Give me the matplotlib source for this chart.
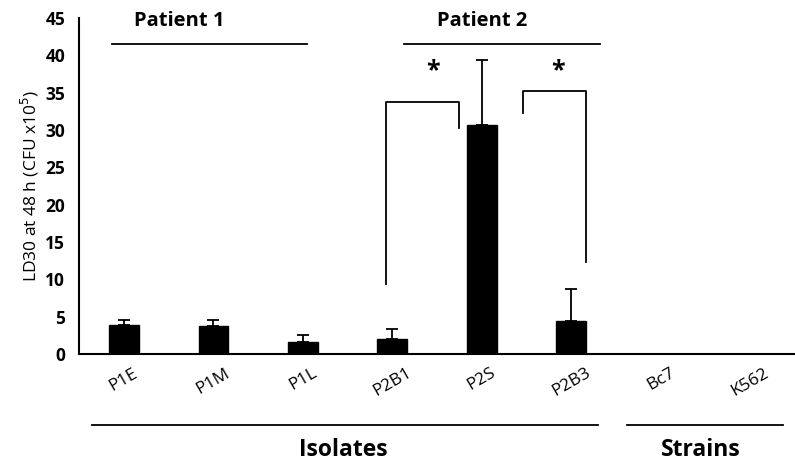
import numpy as np
import matplotlib
matplotlib.use('Agg')
import matplotlib.pyplot as plt

plt.rcParams['font.family'] = ['Open Sans', 'DejaVu Sans']

# data
labels = ['P1E', 'P1M', 'P1L', 'P2B1', 'P2S', 'P2B3', 'Bc7', 'K562']
values = [3.9, 3.8, 1.6, 2.05, 30.7, 4.4, 0, 0]
errors = [0.6, 0.8, 0.9, 1.3, 8.7, 4.3, 0, 0]
yticks = [0, 5, 10, 15, 20, 25, 30, 35, 40, 45]

fig = plt.figure(figsize=(7.95, 4.62), dpi=100)
ax = fig.add_axes([0.0994, 0.234, 0.9006, 0.727])

x = np.arange(len(labels))
lower = [0] * len(labels)
ax.bar(x, values, width=0.33, color='black', edgecolor='black')
ax.errorbar(x[:6], values[:6], yerr=[lower[:6], errors[:6]], fmt='none',
            ecolor='black', elinewidth=1.3, capsize=4, capthick=1.3)

ax.set_xlim(-0.5, 7.5)
ax.set_ylim(0, 45)
ax.set_yticks(yticks)
ax.set_yticklabels([str(t) for t in yticks], fontweight='bold', fontsize=12.5)
ax.set_xticks(x)
ax.set_xticklabels(labels, rotation=30, fontsize=12.5, ha='center')
ax.tick_params(axis='y', length=0, pad=10)
ax.tick_params(axis='x', length=0, pad=8)
for s in ['top', 'right']:
    ax.spines[s].set_visible(False)
for s in ['left', 'bottom']:
    ax.spines[s].set_linewidth(1.5)
ax.set_ylabel('LD30 at 48 h (CFU x10$^5$)', fontsize=12.5)
ax.yaxis.set_label_coords(-0.053, 0.5)

# patient lines
ax.plot([-0.13, 2.05], [41.5, 41.5], color='black', lw=1.3, clip_on=False)
ax.text(0.62, 44.6, 'Patient 1', ha='center', va='center', fontsize=14.5, fontweight='bold')
ax.plot([3.13, 5.32], [41.5, 41.5], color='black', lw=1.3, clip_on=False)
ax.text(4.0, 44.6, 'Patient 2', ha='center', va='center', fontsize=14.5, fontweight='bold')

# significance brackets
ax.plot([2.93, 2.93, 3.75, 3.75], [9.4, 33.7, 33.7, 30.2], color='black', lw=1.3)
ax.text(3.46, 38.0, '*', ha='center', va='center', fontsize=18, fontweight='bold')
ax.plot([4.46, 4.46, 5.17, 5.17], [32.3, 35.2, 35.2, 12.3], color='black', lw=1.3)
ax.text(4.85, 38.0, '*', ha='center', va='center', fontsize=18, fontweight='bold')

# group lines below axis
ax.plot([-0.36, 5.3], [-9.5, -9.5], color='black', lw=1.3, clip_on=False)
ax.text(2.45, -12.9, 'Isolates', ha='center', va='center', fontsize=16.5, fontweight='bold')
ax.plot([5.62, 7.37], [-9.5, -9.5], color='black', lw=1.3, clip_on=False)
ax.text(6.45, -12.9, 'Strains', ha='center', va='center', fontsize=16.5, fontweight='bold')

fig.savefig('out.png', dpi=100)
